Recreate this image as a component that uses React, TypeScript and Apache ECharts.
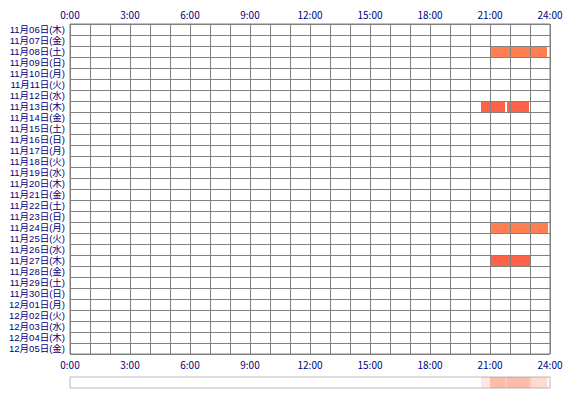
import React, { useEffect, useRef } from "react";
import * as echarts from "echarts";

const days = [
  "11月06日(木)", "11月07日(金)", "11月08日(土)", "11月09日(日)", "11月10日(月)",
  "11月11日(火)", "11月12日(水)", "11月13日(木)", "11月14日(金)", "11月15日(土)",
  "11月16日(日)", "11月17日(月)", "11月18日(火)", "11月19日(水)", "11月20日(木)",
  "11月21日(金)", "11月22日(土)", "11月23日(日)", "11月24日(月)", "11月25日(火)",
  "11月26日(水)", "11月27日(木)", "11月28日(金)", "11月29日(土)", "11月30日(日)",
  "12月01日(月)", "12月02日(火)", "12月03日(水)", "12月04日(木)", "12月05日(金)",
];

const sessionDay = [2, 7, 7, 18, 21];
const sessionStart = [21.0, 20.55, 21.85, 21.0, 21.0];
const sessionEnd = [23.85, 21.75, 22.95, 23.9, 23.05];
const sessionColor = ["#FF7F50", "#FF6347", "#FF6347", "#FF7F50", "#FF6347"];

const hourTicks = [0, 3, 6, 9, 12, 15, 18, 21, 24];

const FONT = "'Noto Sans CJK JP', sans-serif";
const YFONT = "'Liberation Sans', 'Noto Sans CJK JP', sans-serif";
const NAVY = "#000080";
const LINE = "#808080";

export default function App() {
  const ref = useRef<HTMLDivElement>(null);
  useEffect(() => {
    if (!ref.current) return;
    const chart = echarts.init(ref.current, undefined, { renderer: "svg" });
    const mainData = sessionDay.map((d, i) => ({
      value: [d, sessionStart[i], sessionEnd[i]],
      itemStyle: { color: sessionColor[i] },
    }));
    const stripData = sessionDay.map((d, i) => ({
      value: [0, sessionStart[i], sessionEnd[i]],
      itemStyle: { color: sessionColor[i] },
    }));
    const fmt = (v: number) => (hourTicks.indexOf(v) >= 0 ? `${v}:00` : "");
    const renderItem = (params: any, api: any) => {
      const day = api.value(0);
      const s = api.value(1);
      const e = api.value(2);
      const p0 = api.coord([s, day]);
      const p1 = api.coord([e, day]);
      const h = api.size([0, 1])[1];
      return {
        type: "rect",
        shape: { x: p0[0], y: p0[1] - h / 2, width: p1[0] - p0[0], height: h },
        style: { fill: api.visual("color"), opacity: params.seriesIndex === 1 ? 0.15 : 1 },
      };
    };
    chart.setOption({
      animation: false,
      grid: [
        { left: 70, top: 24, width: 480, height: 330, show: true, borderColor: LINE, borderWidth: 1, backgroundColor: "#fff" },
        { left: 70, top: 377, width: 480, height: 11, show: true, borderColor: "#b8b8b8", borderWidth: 1 },
      ],
      xAxis: [
        {
          type: "value", gridIndex: 0, position: "bottom", min: 0, max: 24, interval: 1, z: 3,
          axisLine: { show: false }, axisTick: { show: false },
          splitLine: { show: true, lineStyle: { color: LINE, width: 1 } },
          axisLabel: { formatter: fmt, color: NAVY, fontSize: 10, fontFamily: FONT, margin: 5, lineHeight: 11 },
        },
        {
          type: "value", gridIndex: 0, position: "top", min: 0, max: 24, interval: 1,
          axisLine: { show: false }, axisTick: { show: false }, splitLine: { show: false },
          axisLabel: { formatter: fmt, color: NAVY, fontSize: 10, fontFamily: FONT, margin: 4, lineHeight: 11 },
        },
        {
          type: "value", gridIndex: 1, min: 0, max: 24, interval: 1, show: false,
        },
      ],
      yAxis: [
        {
          type: "category", gridIndex: 0, data: days, inverse: true, z: 3,
          axisLine: { show: false }, axisTick: { show: false },
          splitLine: { show: true, interval: 0, lineStyle: { color: LINE, width: 1 } },
          axisLabel: { interval: 0, color: NAVY, fontSize: 9.5, fontFamily: YFONT, margin: 5, lineHeight: 10 },
        },
        { type: "category", gridIndex: 1, data: ["all"], show: false },
      ],
      series: [
        {
          type: "custom", xAxisIndex: 0, yAxisIndex: 0, renderItem,
          encode: { x: [1, 2], y: 0 }, data: mainData,
        },
        {
          type: "custom", xAxisIndex: 2, yAxisIndex: 1, renderItem,
          encode: { x: [1, 2], y: 0 }, data: stripData,
        },
      ],
    });
    return () => chart.dispose();
  }, []);
  return (
    <div
      ref={ref}
      style={{ position: "fixed", left: 0, top: 0, width: 570, height: 400, background: "#fff" }}
    />
  );
}
